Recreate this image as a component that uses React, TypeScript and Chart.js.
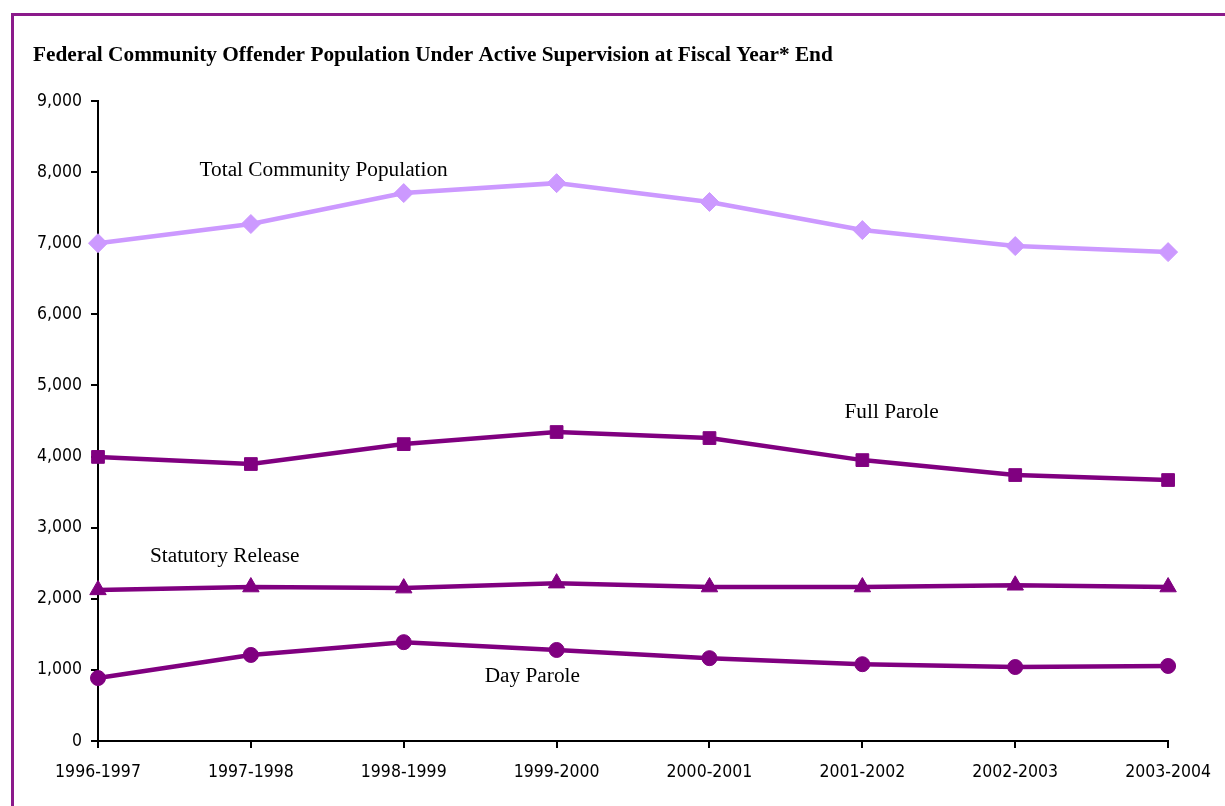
import React, { useEffect, useRef } from "react";
import { Chart, registerables } from "chart.js";

Chart.register(...registerables);

const categories = ["1996-1997", "1997-1998", "1998-1999", "1999-2000", "2000-2001", "2001-2002", "2002-2003", "2003-2004"];
const totalCommunity = [7000, 7270, 7705, 7845, 7580, 7185, 6960, 6875];
const fullParole = [3995, 3895, 4175, 4345, 4260, 3950, 3740, 3670];
const statutoryRelease = [2125, 2165, 2150, 2220, 2165, 2165, 2190, 2165];
const dayParole = [885, 1210, 1390, 1280, 1165, 1080, 1040, 1055];
const yTicks = [0, 1000, 2000, 3000, 4000, 5000, 6000, 7000, 8000, 9000];

const titleText = "Federal Community Offender Population Under Active Supervision at Fiscal Year* End";
// label text, x position (category index), y position (value)
const seriesLabels: [string, number, number][] = [
  ["Total Community Population", 1.476, 7945],
  ["Full Parole", 5.191, 4542],
  ["Statutory Release", 0.829, 2517],
  ["Day Parole", 2.841, 830],
];

const PURPLE = "#800080";
const LILAC = "#CC99FF";
const TICK_FONT = "'Liberation Sans Narrow', 'DejaVu Sans Condensed', 'Arial Narrow', sans-serif";
const SERIF = "'Liberation Serif', 'Times New Roman', serif";

const textPlugin = {
  id: "textPlugin",
  afterDraw(chart: any) {
    const ctx = chart.ctx;
    const xs = chart.scales.x;
    const ys = chart.scales.y;
    ctx.save();
    ctx.fillStyle = "#000";
    ctx.textBaseline = "alphabetic";
    ctx.textAlign = "left";
    ctx.font = `bold 21.3px ${SERIF}`;
    ctx.fillText(titleText, 33, 61);
    ctx.font = `21.3px ${SERIF}`;
    ctx.textAlign = "center";
    for (const [t, xi, yv] of seriesLabels) {
      ctx.fillText(t, xs.getPixelForValue(xi), ys.getPixelForValue(yv));
    }
    ctx.restore();
  },
};

export default function App() {
  const ref = useRef<HTMLCanvasElement | null>(null);
  useEffect(() => {
    if (!ref.current) return;
    const mk = (label: string, data: number[], color: string, style: any, radius: number) => ({
      label,
      data,
      borderColor: color,
      backgroundColor: color,
      pointBackgroundColor: color,
      pointBorderColor: color,
      borderWidth: 4.5,
      pointStyle: style,
      pointRadius: radius,
      pointBorderWidth: 1,
      tension: 0,
    });
    const chart = new Chart(ref.current, {
      type: "line",
      data: {
        labels: categories,
        datasets: [
          mk("Total Community Population", totalCommunity, LILAC, "rectRot", 9.5),
          mk("Full Parole", fullParole, PURPLE, "rect", 9),
          mk("Statutory Release", statutoryRelease, PURPLE, "triangle", 9.5),
          mk("Day Parole", dayParole, PURPLE, "circle", 7.5),
        ],
      },
      options: {
        animation: false,
        responsive: false,
        maintainAspectRatio: false,
        layout: { padding: { left: 0, right: 55, top: 101, bottom: 0 } },
        plugins: { legend: { display: false }, title: { display: false }, tooltip: { enabled: false } },
        scales: {
          x: {
            type: "category",
            offset: false,
            grid: { display: true, drawOnChartArea: false, drawTicks: true, tickLength: 7, color: "#000", lineWidth: 2, offset: false },
            border: { display: true, color: "#000", width: 2 },
            ticks: { color: "#000", font: { family: TICK_FONT, size: 17.5 }, padding: 14, maxRotation: 0, autoSkip: false },
            afterFit: (s: any) => { s.height = 65; },
          },
          y: {
            min: 0,
            max: 9000,
            afterBuildTicks: (s: any) => { s.ticks = yTicks.map((v) => ({ value: v })); },
            grid: { display: true, drawOnChartArea: false, drawTicks: true, tickLength: 7, color: "#000", lineWidth: 2 },
            border: { display: true, color: "#000", width: 2 },
            ticks: {
              color: "#000",
              font: { family: TICK_FONT, size: 17.5 },
              padding: 9,
              callback: (v: any) => Number(v).toLocaleString("en-US"),
            },
            afterFit: (s: any) => { s.width = 98; },
          },
        },
      },
      plugins: [textPlugin],
    });
    return () => chart.destroy();
  }, []);
  return (
    <div style={{ position: "fixed", left: 0, top: 0, width: 1225, height: 806, overflow: "hidden", background: "#fff" }}>
      <div style={{ position: "absolute", left: 11, top: 13, width: 1400, height: 1000, border: "3px solid #8B1A8B", boxSizing: "border-box" }} />
      <canvas ref={ref} width={1225} height={806} style={{ position: "absolute", left: 0, top: 0 }} />
    </div>
  );
}
